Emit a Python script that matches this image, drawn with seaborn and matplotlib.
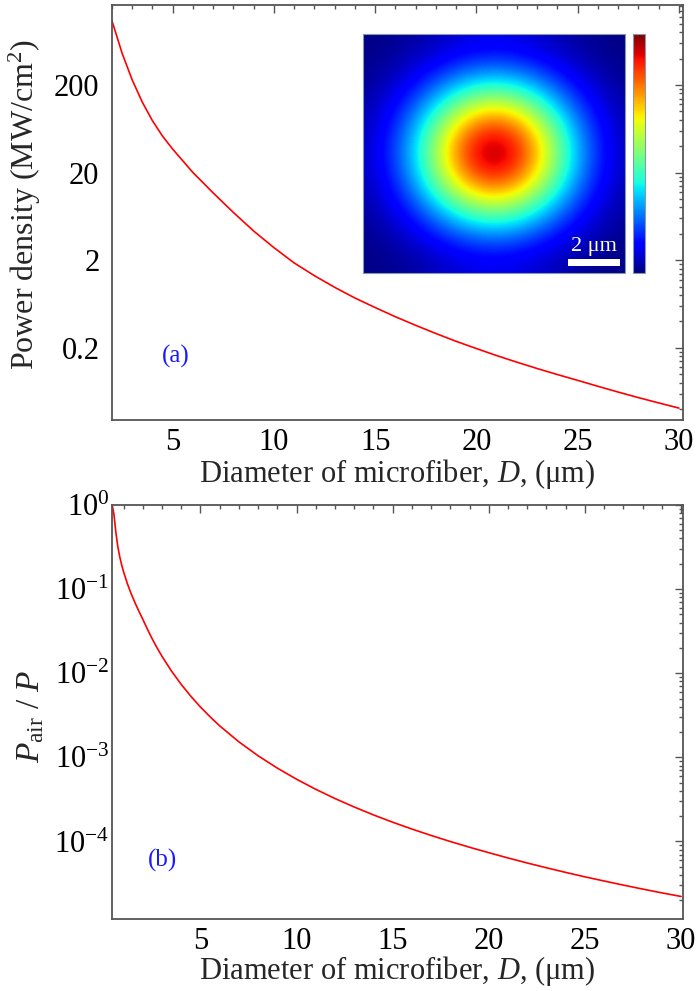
import numpy as np
import pandas as pd
import matplotlib
matplotlib.use("Agg")
import matplotlib.pyplot as plt
import seaborn as sns
from matplotlib.ticker import LogLocator, MultipleLocator, FuncFormatter, FixedLocator, NullFormatter
from matplotlib.patches import Rectangle

# values
d_top = [2.0, 2.5, 3.0, 3.5, 4.0, 4.5, 5, 6, 7, 8, 9, 10, 11, 12, 13, 14, 15, 16, 17,
         18, 19, 20, 21, 22, 23, 24, 25, 26, 27, 28, 29, 30]
power_density = [1080, 460, 228, 127, 78, 52, 37, 20, 11.7, 7.0, 4.3, 2.78, 1.86, 1.33,
                 0.98, 0.74, 0.576, 0.452, 0.361, 0.291, 0.237, 0.196, 0.163, 0.137, 0.116,
                 0.099, 0.085, 0.0727, 0.0625, 0.054, 0.047, 0.041]

d_bot = [0.42, 0.5, 0.6, 0.7, 0.8, 0.9, 1.0, 1.2, 1.4, 1.6, 1.8, 2.0, 2.25, 2.5, 2.75, 3.0,
         3.5, 4.0, 4.5, 5.0, 5.5, 6, 7, 8, 9, 10, 11, 12, 13, 14, 15, 16, 17, 18, 19, 20,
         21, 22, 23, 24, 25, 26, 27, 28, 29, 30]
air_fraction = [0.97, 0.78, 0.475, 0.323, 0.244, 0.195, 0.161, 0.116, 0.0878, 0.0686, 0.0545,
                0.0439, 0.0331, 0.0254, 0.0199, 0.0159, 0.01057, 0.00737, 0.00533, 0.00397,
                0.00304, 0.00237, 0.00153, 0.001045, 7.45e-4, 5.5e-4, 4.17e-4, 3.24e-4,
                2.57e-4, 2.07e-4, 1.695e-4, 1.406e-4, 1.179e-4, 9.99e-5, 8.54e-5, 7.36e-5,
                6.37e-5, 5.55e-5, 4.87e-5, 4.29e-5, 3.8e-5, 3.39e-5, 3.03e-5, 2.72e-5,
                2.45e-5, 2.22e-5]

# mode intensity (normalised), coarse 1 um grid estimated from the inset
mode_grid = [
    [0.005, 0.015, 0.034, 0.060, 0.086, 0.097, 0.086, 0.060, 0.034, 0.015, 0.005],
    [0.014, 0.041, 0.093, 0.168, 0.239, 0.269, 0.239, 0.168, 0.093, 0.041, 0.014],
    [0.030, 0.085, 0.193, 0.348, 0.496, 0.558, 0.496, 0.348, 0.193, 0.085, 0.030],
    [0.046, 0.131, 0.299, 0.539, 0.768, 0.864, 0.768, 0.539, 0.299, 0.131, 0.046],
    [0.053, 0.152, 0.346, 0.624, 0.889, 1.000, 0.889, 0.624, 0.346, 0.152, 0.053],
    [0.046, 0.131, 0.299, 0.539, 0.768, 0.864, 0.768, 0.539, 0.299, 0.131, 0.046],
    [0.030, 0.085, 0.193, 0.348, 0.496, 0.558, 0.496, 0.348, 0.193, 0.085, 0.030],
    [0.014, 0.041, 0.093, 0.168, 0.239, 0.269, 0.239, 0.168, 0.093, 0.041, 0.014],
    [0.005, 0.015, 0.034, 0.060, 0.086, 0.097, 0.086, 0.060, 0.034, 0.015, 0.005],
]

top_yticks = [0.2, 2, 20, 200]
bot_yticks = [1e-4, 1e-3, 1e-2, 1e-1, 1e0]

sns.set_theme(style="white")
plt.rcParams["font.family"] = ["Liberation Serif", "DejaVu Serif"]
plt.rcParams["mathtext.fontset"] = "custom"
plt.rcParams["mathtext.rm"] = "Liberation Serif"
plt.rcParams["mathtext.it"] = "Liberation Serif:italic"

FS = 22
spine_col = "#555555"

fig = plt.figure(figsize=(7, 9.91), dpi=100)
ax1 = fig.add_axes([0.16, 0.5762, 0.8157, 0.4188])
ax2 = fig.add_axes([0.16, 0.0727, 0.8157, 0.4177])

df_top = pd.DataFrame({"D": d_top, "pd": power_density})
df_bot = pd.DataFrame({"D": d_bot, "frac": air_fraction})

sns.lineplot(data=df_top, x="D", y="pd", ax=ax1, color="red", lw=1.2)
sns.lineplot(data=df_bot, x="D", y="frac", ax=ax2, color="red", lw=1.2)

for ax in (ax1, ax2):
    ax.set_yscale("log")
    ax.xaxis.set_major_locator(MultipleLocator(5))
    ax.xaxis.set_minor_locator(MultipleLocator(1))
    ax.tick_params(which="both", direction="in", top=True, right=True, color=spine_col,
                   labelsize=FS, labelcolor="black", width=1.0)
    ax.tick_params(which="major", length=6, pad=6)
    ax.tick_params(which="minor", length=3)
    ax.tick_params(axis="y", which="major", pad=9)
    for s in ax.spines.values():
        s.set_color(spine_col)
        s.set_linewidth(1.3)
    ax.set_xlabel(r"Diameter of microfiber, $D$, (μm)", fontsize=FS)

# top panel
ax1.set_xlim(2.0, 30.2)
ax1.set_ylim(0.03, 1640)
ax1.yaxis.set_major_locator(FixedLocator(top_yticks))
ax1.yaxis.set_major_formatter(FuncFormatter(lambda v, p: "%g" % v))
ax1.yaxis.set_minor_locator(LogLocator(base=10, subs=np.arange(0.4, 1.9, 0.2), numticks=50))
ax1.yaxis.set_minor_formatter(NullFormatter())
ax1.set_ylabel(r"Power density (MW/cm$^2$)", fontsize=FS + 1)
ax1.yaxis.set_label_coords(-0.12, 0.52)
ax1.xaxis.set_label_coords(0.5, -0.088)
ax1.text(0.112, 0.154, "(a)", transform=ax1.transAxes, color="#1a1aff", fontsize=18,
         ha="center", va="center")

# bottom panel
ax2.set_xlim(0.4, 30.1)
ax2.set_ylim(1.2e-5, 1.0)
ax2.yaxis.set_major_locator(FixedLocator(bot_yticks))
ax2.yaxis.set_major_formatter(FuncFormatter(lambda v, p: r"$10^{%d}$" % round(np.log10(v))))
ax2.yaxis.set_minor_locator(LogLocator(base=10, subs=np.arange(2, 10), numticks=50))
ax2.yaxis.set_minor_formatter(NullFormatter())
ax2.tick_params(axis="y", which="major", pad=2)
ax2.set_ylabel(r"$P_{\mathrm{air}}$ / $P$", fontsize=FS + 2)
ax2.yaxis.set_label_coords(-0.115, 0.49)
ax2.xaxis.set_label_coords(0.5, -0.084)
ax2.text(0.088, 0.1425, "(b)", transform=ax2.transAxes, color="#1a1aff", fontsize=18,
         ha="center", va="center")

# inset: measured mode profile
axi = fig.add_axes([0.5186, 0.7245, 0.3743, 0.2412])
im = axi.imshow(np.array(mode_grid), cmap="jet", vmin=0, vmax=1, interpolation="bicubic",
                extent=(-5.5, 5.5, -4.5, 4.5), aspect="auto")
axi.set_xlim(-5, 5)
axi.set_ylim(-4.5, 4.5)
axi.set_xticks([])
axi.set_yticks([])
for s in axi.spines.values():
    s.set_color("#8899aa")
    s.set_linewidth(0.8)
axi.add_patch(Rectangle((2.82, -4.24), 2.0, 0.26, color="white", lw=0))
axi.text(3.82, -3.5, "2 μm", color="white", fontsize=16, ha="center", va="center")

cax = fig.add_axes([0.9043, 0.7245, 0.0171, 0.2412])
cb = fig.colorbar(im, cax=cax)
cb.set_ticks([])
cb.outline.set_edgecolor("#8899aa")
cb.outline.set_linewidth(0.8)

fig.savefig("out.png", dpi=100)
